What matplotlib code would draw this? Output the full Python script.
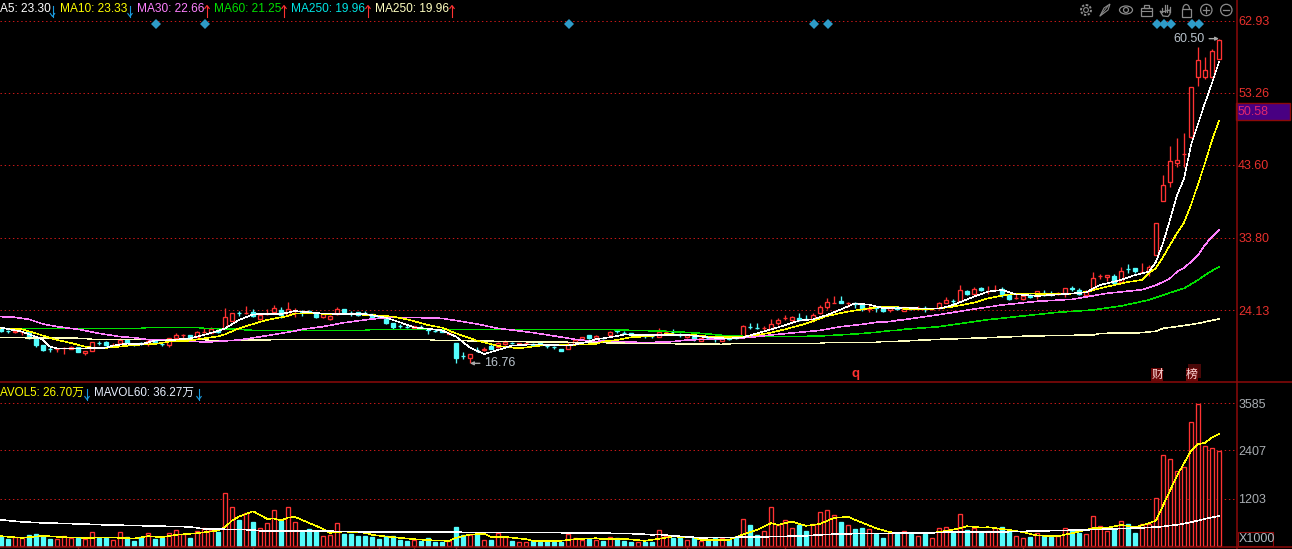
import numpy as np
import matplotlib
matplotlib.use('Agg')
import matplotlib.pyplot as plt
from matplotlib.patches import Rectangle, Circle, Ellipse, Polygon, Arc

plt.rcParams['font.family'] = ['Liberation Sans', 'Noto Sans CJK SC', 'DejaVu Sans']

open_p = [21.68,21.35,21.22,21.13,21.15,20.43,19.45,18.89,18.85,18.98,
	18.96,19.14,18.42,18.69,19.74,19.81,19.43,19.76,20.12,19.56,
	19.69,19.67,20.03,19.56,19.45,20.39,20.77,20.79,20.48,21.13,
	21.10,21.46,21.59,22.71,23.71,23.76,23.87,22.98,23.58,23.92,
	24.14,23.47,24.03,23.94,23.94,23.56,23.20,22.98,23.60,24.27,
	23.80,23.83,23.80,23.56,23.18,22.93,22.40,22.02,21.88,21.77,
	21.84,21.55,21.35,21.41,20.97,19.67,18.04,17.66,18.80,18.73,
	19.32,19.18,19.58,19.74,19.58,19.65,19.63,19.67,19.38,19.16,
	18.91,18.96,19.63,20.30,20.79,20.34,20.38,20.79,21.46,21.12,
	21.01,20.77,20.66,20.66,20.57,21.17,21.17,20.85,20.48,20.70,
	20.03,20.36,20.23,20.03,20.43,20.45,20.57,21.88,21.70,21.66,
	21.64,22.35,23.09,22.80,23.07,22.91,22.80,23.74,24.54,25.10,
	25.39,25.01,25.01,24.90,24.23,24.50,24.36,24.09,24.50,24.05,
	24.38,24.34,24.34,24.21,24.36,25.12,25.41,25.39,26.73,26.33,
	27.13,26.71,26.80,26.95,26.19,25.73,25.66,26.19,26.02,26.46,
	26.30,26.31,26.46,27.02,26.82,26.19,27.09,28.63,28.61,28.70,
	27.94,29.65,29.72,29.17,29.32,31.50,38.80,41.33,43.85,44.98,
	47.30,55.30,55.40,55.30,57.80]
close_p = [21.33,21.31,21.26,21.17,20.34,19.45,18.78,18.85,18.89,19.02,
	19.18,18.56,18.65,19.81,19.70,19.45,19.47,20.12,19.72,19.52,
	19.65,19.99,19.67,19.52,20.34,20.74,20.81,20.34,21.15,21.17,
	21.59,21.15,23.16,23.69,23.67,23.80,23.38,23.47,23.62,24.36,
	23.47,24.32,24.07,23.90,23.90,23.20,23.56,23.38,24.23,23.83,
	23.76,23.47,23.76,23.20,23.14,22.40,21.91,21.98,21.84,21.95,
	21.80,21.41,21.31,21.24,21.10,17.66,18.00,18.20,18.76,18.91,
	18.91,19.67,19.90,19.70,19.72,19.69,19.49,19.45,19.34,19.12,
	18.69,19.54,20.16,20.48,20.34,20.61,20.34,21.19,21.28,21.08,
	20.75,20.81,20.62,20.62,21.24,21.21,21.13,20.81,20.75,20.21,
	20.43,20.32,20.19,20.43,20.21,20.41,22.00,21.84,21.66,21.70,
	22.26,22.84,23.13,23.25,22.80,22.87,23.42,24.54,25.17,25.14,
	25.12,25.05,24.97,24.23,24.45,24.46,24.05,24.54,24.23,24.54,
	24.34,24.38,24.30,24.25,25.03,25.48,25.37,26.77,26.28,26.91,
	26.77,26.75,26.84,26.24,25.61,25.77,25.97,25.84,26.64,26.10,
	26.26,26.35,27.09,26.98,26.24,26.73,28.38,28.67,28.83,27.80,
	29.32,29.61,29.37,29.21,29.86,35.80,40.90,44.06,44.20,45.02,
	53.98,57.60,56.26,58.84,60.28]
high_p = [21.91,21.50,21.55,21.33,21.24,20.50,19.50,19.14,19.00,19.14,
	19.25,19.20,18.70,19.85,19.99,19.99,19.72,20.34,20.20,19.67,
	19.90,20.25,20.10,19.76,20.43,21.01,20.97,20.85,21.33,21.68,
	21.86,21.68,24.36,23.75,24.05,24.68,24.23,23.65,24.27,24.81,
	24.50,25.17,24.36,24.18,24.10,23.60,23.60,23.47,24.50,24.30,
	24.01,23.90,24.01,23.60,23.34,23.00,22.45,22.26,22.13,22.00,
	22.13,21.60,21.55,21.50,21.15,19.70,18.51,18.25,19.14,19.18,
	19.54,19.90,20.12,19.90,19.75,19.80,19.67,19.70,19.54,19.32,
	18.95,19.90,20.30,20.52,20.85,20.79,20.48,21.37,21.50,21.33,
	21.05,20.90,20.75,20.70,21.73,21.46,21.55,21.10,20.80,20.75,
	20.50,20.57,20.57,20.50,20.50,20.66,22.13,22.40,22.40,21.99,
	22.93,23.02,23.42,23.38,23.74,23.47,23.69,24.81,25.75,26.02,
	26.02,25.21,25.21,24.95,24.76,24.65,24.40,24.60,24.55,24.60,
	24.59,24.68,24.72,24.30,25.26,25.84,25.66,27.49,26.80,27.18,
	27.20,27.36,27.49,27.18,26.25,26.37,26.05,26.25,26.70,26.77,
	26.69,26.60,27.15,27.36,27.04,26.80,29.23,29.01,28.87,28.92,
	29.86,30.30,29.80,30.39,30.17,35.85,42.20,46.10,47.20,47.90,
	54.00,59.34,58.00,59.11,60.50]
low_p = [21.15,21.10,21.10,20.79,20.30,19.23,18.65,18.51,18.51,18.24,
	18.90,18.50,18.15,18.65,19.45,19.32,19.23,19.54,19.65,19.36,
	19.45,19.36,19.60,19.36,19.18,20.25,20.25,20.30,20.34,21.01,
	21.01,21.01,21.55,22.65,23.34,23.65,23.20,22.84,23.47,23.78,
	23.11,23.34,23.25,23.38,23.74,23.02,23.10,22.80,23.47,23.75,
	23.38,23.40,23.47,23.10,23.02,22.22,21.59,21.68,21.72,21.59,
	21.55,20.92,21.24,21.20,20.90,16.99,17.57,16.99,18.56,18.65,
	18.85,19.00,19.45,19.54,19.45,19.50,19.45,19.40,19.09,18.91,
	18.65,18.91,19.54,20.12,20.21,20.21,20.21,20.57,21.10,20.88,
	20.70,20.70,20.43,20.43,20.48,20.88,20.79,20.57,20.40,19.99,
	19.95,20.21,19.85,19.95,20.15,20.21,20.34,21.55,21.55,21.46,
	21.55,22.13,22.80,22.67,22.71,22.80,22.49,23.56,24.27,25.03,
	25.03,24.50,24.36,24.05,23.92,23.92,23.92,23.87,24.15,24.00,
	24.14,24.14,23.87,24.14,24.23,25.03,24.94,25.26,26.15,26.24,
	26.64,26.28,26.69,25.93,25.48,25.61,25.48,25.80,25.61,26.05,
	26.06,26.15,25.88,26.64,26.20,26.10,27.00,28.29,28.07,27.71,
	27.80,29.05,29.14,29.05,28.74,31.45,38.70,40.66,43.30,43.30,
	47.20,54.15,55.13,55.20,57.75]
volume = [250,200,233,208,300,325,275,200,192,267,
	208,208,192,367,208,208,167,367,233,150,
	250,342,200,217,342,417,317,225,392,467,
	417,358,1342,992,675,842,625,467,600,917,
	642,992,608,375,442,383,267,300,592,325,
	325,275,275,250,200,275,275,175,150,175,
	150,225,125,125,133,500,300,300,325,167,
	175,350,250,150,117,117,150,125,150,125,
	125,317,217,167,183,175,150,242,217,150,
	125,108,125,125,417,275,217,217,167,208,
	142,167,208,208,167,233,692,550,300,400,
	992,550,667,467,550,400,567,867,917,792,
	625,542,450,475,442,308,225,367,325,392,
	308,267,317,217,467,492,342,817,425,467,
	367,383,467,500,400,267,217,250,342,267,
	233,267,467,383,333,317,767,517,400,442,
	642,575,350,558,567,1217,2292,2192,1892,2000,
	3117,3567,2517,2467,2383]

ma5_i = [0,3,4,5,6,7,8,12,15,16,18,20,22,24,27,29,31,32,34,36,40,42,43,46,52,55,57,59,63,65,67,69,71,73,76,81,84,85,
	86,88,89,95,98,101,104,106,108,111,114,116,118,120,122,124,126,128,129,131,134,136,139,141,143,145,148,152,155,157,160,162,164,165,166,167,168,169,170,171,172,173,174]
ma5_v = [21.77,21.24,20.88,20.57,20.12,19.23,19.00,19.00,19.09,19.36,19.63,19.54,20.03,20.08,20.34,20.79,21.33,21.68,22.80,23.56,23.60,24.00,23.92,23.65,23.60,23.11,22.49,21.82,21.41,20.57,19.09,18.24,18.78,19.36,19.54,19.36,19.90,20.25,
	20.34,20.66,20.83,20.79,20.79,20.48,20.30,20.48,21.01,21.82,22.71,22.89,23.47,24.23,25.03,24.85,24.41,24.36,24.50,24.36,24.32,24.81,25.93,26.60,26.82,26.24,26.02,26.28,26.50,27.49,28.16,28.83,29.27,30.60,33.10,36.20,39.55,41.70,46.25,49.07,51.90,54.55,57.37]
ma10_i = [0,3,5,6,8,10,12,14,16,19,22,24,27,29,31,32,34,36,38,41,42,43,48,53,56,58,61,63,65,68,71,74,77,81,85,
	86,88,90,93,95,99,102,106,108,110,112,115,118,121,124,126,128,129,132,134,136,139,141,143,145,152,155,158,161,163,164,165,166,167,168,169,170,171,172,173,174]
ma10_v = [21.68,21.55,21.01,20.70,20.12,19.72,19.23,19.00,19.14,19.45,19.58,19.90,20.03,20.34,20.61,20.88,21.68,22.26,22.80,23.34,23.69,23.69,23.60,23.47,23.25,22.89,22.13,21.77,21.01,20.03,19.32,19.00,19.36,19.45,19.58,
	19.90,20.12,20.48,20.66,20.92,20.79,20.48,20.57,20.79,21.10,21.55,22.31,23.34,23.92,24.36,24.59,24.59,24.27,24.23,24.36,24.59,25.12,25.70,26.06,26.37,26.24,26.55,27.27,27.89,28.16,29.10,29.77,31.24,32.85,34.45,35.84,38.20,41.00,43.83,46.90,49.50]
ma30_i = [0,2,4,6,8,11,14,17,19,21,28,29,34,38,42,43,46,49,53,55,58,63,66,68,71,73,76,79,82,85,
	86,92,96,98,101,105,107,110,114,117,120,123,125,127,128,129,134,139,143,148,153,158,163,165,167,168,169,170,171,172,173,174]
ma30_v = [23.25,23.16,22.89,22.26,21.91,21.55,21.01,20.57,20.43,20.16,19.94,19.81,20.12,20.70,21.33,21.55,21.91,22.44,22.93,23.11,23.16,23.02,22.58,22.26,21.68,21.46,21.10,20.66,20.21,19.90,
	20.03,19.76,19.90,20.12,20.21,20.34,20.48,20.79,21.15,21.41,21.91,22.22,22.49,22.58,22.75,22.84,23.51,24.27,24.81,25.30,25.57,26.37,26.86,27.45,28.38,29.27,29.77,30.60,31.51,32.85,33.97,34.85]
ma60_i = [0,20,21,28,29,34,36,52,53,85,86,90,94,97,100,103,107,115,118,122,125,127,128,129,134,141,146,151,156,160,164,167,169,171,172,173,174]
ma60_v = [21.68,21.68,21.82,21.82,21.68,21.55,21.41,21.41,21.55,21.55,21.55,21.41,21.33,21.19,21.01,20.75,20.57,20.61,20.70,20.92,21.15,21.37,21.41,21.55,21.90,22.84,23.34,23.83,24.14,24.68,25.48,26.46,27.04,28.15,28.82,29.40,29.90]
ma250_i = [0,5,12,13,29,30,33,42,61,62,66,67,85,86,92,103,105,117,118,125,126,128,134,140,147,156,157,163,165,166,169,171,174]
ma250_v = [20.48,20.40,20.34,20.21,20.21,19.99,20.07,20.21,20.21,20.07,20.07,19.99,19.76,19.76,19.67,19.54,19.67,19.67,19.81,19.81,19.94,19.94,20.21,20.39,20.66,20.79,21.00,21.10,21.30,21.68,22.05,22.35,22.93]
mavol5_i = [0,3,6,9,12,16,19,21,23,25,28,31,32,33,34,36,37,38,39,40,41,42,44,46,47,49,52,53,55,57,59,62,64,65,67,69,70,72,75,76,80,82,85,86,89,92,94,96,99,100,104,106,108,110,111,113,115,117,119,121,123,125,127,130,134,137,138,140,141,144,146,148,151,153,156,158,160,162,164,165,166,168,170,171,172,173,174]
mavol5_v = [258,217,267,233,217,225,200,258,233,292,333,400,483,650,750,883,792,692,700,650,725,742,592,442,342,375,342,292,250,217,183,150,142,217,300,317,242,242,183,142,142,183,208,183,192,142,192,250,225,167,167,300,417,583,542,625,517,567,717,742,600,458,358,333,358,458,508,475,483,417,358,275,258,333,458,467,542,483,583,650,1025,1775,2400,2567,2600,2733,2817]
mavol60_i = [0,3,6,11,15,21,27,29,36,37,47,52,84,91,93,94,96,100,109,115,117,120,133,136,141,155,159,163,166,167,168,170,172,174]
mavol60_v = [667,617,592,567,542,517,492,442,417,392,383,367,342,317,292,300,267,217,242,267,292,317,342,367,358,417,442,467,500,525,542,608,692,767]
price_ticks = [62.93, 53.26, 43.60, 33.80, 24.13]
vol_ticks = [3585, 2407, 1203]
signal_bars = [22, 29, 81, 116, 118, 165, 166, 167, 170, 171]
date_bars = [11, 36, 54, 59, 65, 98, 112, 124, 146]

UP = '#ff3232'
DOWN = '#54fcfc'
FRAME = '#8c0a0a'
GRID = '#c81818'
W = 1292
H = 549
PANEL_X = 1236
PANEL_Y = 382
LW = 0.72
MA_LW = 0.4
BAR_LW = 0.95

x = np.arange(len(close_p))
open_a = np.array(open_p)
close_a = np.array(close_p)
up = close_a >= open_a
cols = [UP if u else DOWN for u in up]
fills = ['black' if u else DOWN for u in up]
top = np.maximum(open_a, close_a)
bot = np.minimum(open_a, close_a)

fig = plt.figure(figsize=(W / 100, H / 100), dpi=100, facecolor='black')
ax = fig.add_axes([0, (H - PANEL_Y) / H, PANEL_X / W, PANEL_Y / H], facecolor='black')
ax2 = fig.add_axes([0, 0, PANEL_X / W, (H - PANEL_Y) / H], facecolor='black')
over = fig.add_axes([0, 0, 1, 1], facecolor='none')
over.set_xlim(0, W)
over.set_ylim(H, 0)
over.axis('off')

for a in [ax, ax2]:
	a.set_xlim(-1 / 7, 1235 / 7)
	for s in a.spines.values():
		s.set_visible(False)
	a.yaxis.tick_right()
	a.tick_params(axis='y', length=0, pad=1.5)
	a.grid(axis='y', color=GRID, linestyle=(0, (1.4, 2.75)), linewidth=LW)
	a.set_axisbelow(True)

ax.set_ylim(14.49, 65.68)
ax.set_xticks([])
ax.set_yticks(price_ticks)
ax.set_yticklabels(['%.2f' % p for p in price_ticks], color='#e8302c', fontsize=9)

ax2.set_ylim(-63, 4124)
ax2.set_yticks(vol_ticks)
ax2.set_yticklabels([str(v) for v in vol_ticks], color='#a9adb2', fontsize=9)
ax2.set_xticks(date_bars)
ax2.set_xticklabels([])
ax2.tick_params(axis='x', direction='in', length=2, width=1, color=FRAME)

# candles
ax.vlines(x, top, high_p, colors=cols, linewidth=BAR_LW, zorder=2)
ax.vlines(x, low_p, bot, colors=cols, linewidth=BAR_LW, zorder=2)
ax.bar(x, top - bot, bottom=bot, width=0.68, color=fills, edgecolor=cols, linewidth=BAR_LW, zorder=2)

for idx, val, c in [(ma250_i, ma250_v, '#ffffc0'), (ma60_i, ma60_v, '#00e000'), (ma30_i, ma30_v, '#ff80ff'),
		(ma10_i, ma10_v, '#ffff00'), (ma5_i, ma5_v, '#ffffff')]:
	ax.plot(idx, val, color=c, linewidth=MA_LW, antialiased=False, zorder=3)

ax.plot(np.array(signal_bars) + 0.2, [62.4] * len(signal_bars), linestyle='none', marker='D',
	markersize=5.2, color='#2e9bc8', markeredgewidth=0, zorder=4)

ax.annotate('60.50', xy=(174, 60.5), xytext=(-14, 0), textcoords='offset pixels', ha='right', va='center',
	color='#b9c3cc', fontsize=9, arrowprops=dict(arrowstyle='-|>', color='#a8a8a8', lw=1, mutation_scale=5, shrinkA=1, shrinkB=0))
ax.annotate('16.76', xy=(67, 16.99), xytext=(14, 0), textcoords='offset pixels', ha='left', va='center',
	color='#b9c3cc', fontsize=9, arrowprops=dict(arrowstyle='-|>', color='#a8a8a8', lw=1, mutation_scale=5, shrinkA=1, shrinkB=0))

# volume
ax2.bar(x, volume, width=0.68, color=fills, edgecolor=cols, linewidth=BAR_LW, zorder=2)
ax2.plot(mavol5_i, mavol5_v, color='#ffff00', linewidth=MA_LW, antialiased=False, zorder=3)
ax2.plot(mavol60_i, mavol60_v, color='#ffffff', linewidth=MA_LW, antialiased=False, zorder=3)

# frame
over.plot([0, W], [PANEL_Y, PANEL_Y], color=FRAME, linewidth=1.1)
over.plot([0, W], [546.8, 546.8], color=FRAME, linewidth=1.1)
over.plot([PANEL_X + 0.5, PANEL_X + 0.5], [0, H], color=FRAME, linewidth=1.1)
over.add_patch(Rectangle((PANEL_X, 103), 54, 17, facecolor='#480082', edgecolor=FRAME, linewidth=1))
over.text(1238, 112, '50.58', color='#e0286e', fontsize=9, va='center')
over.add_patch(Rectangle((1237.5, 532), 35.5, 14, facecolor='black', edgecolor=FRAME, linewidth=0.8))
over.text(1239, 539, 'X1000', color='#b0b8c0', fontsize=9, va='center')


def trend_arrow(xc, yc, rising, c):
	# thin arrow after a legend value
	d = -1 if rising else 1
	over.plot([xc, xc], [yc - 5.5, yc + 5.5], color=c, linewidth=0.8)
	tip = yc + d * 5.5
	over.plot([xc - 2.2, xc, xc + 2.2], [tip - d * 3, tip, tip - d * 3], color=c, linewidth=0.8)


# legend rows
BLUE = '#1a9be0'
over.text(0, 9.5, 'A5: 23.30', color='white', fontsize=8.6, va='center')
row = [(60, 'MA10: 23.33', '#ffff00', 130, False, BLUE), (137, 'MA30: 22.66', '#ff80ff', 207, True, UP),
	(214, 'MA60: 21.25', '#00e000', 284, True, UP), (291, 'MA250: 19.96', '#00e5e5', 368, True, UP),
	(375, 'MA250: 19.96', '#ffffc0', 452, True, UP)]
trend_arrow(52.5, 11, False, BLUE)
for tx, label, c, ax_, rising, ac in row:
	over.text(tx, 9.5, label, color=c, fontsize=8.6, va='center')
	trend_arrow(ax_, 11, rising, ac)
over.text(0, 393, 'AVOL5: 26.70万', color='#ffff00', fontsize=8.4, va='center')
trend_arrow(87, 394, False, BLUE)
over.text(94, 393, 'MAVOL60: 36.27万', color='#e8f0ff', fontsize=8.4, va='center')
trend_arrow(199, 394, False, BLUE)

# signal marks under the price panel
over.text(855, 374.5, 'q', color=UP, fontsize=9.5, fontweight='bold', ha='center', va='center')
over.add_patch(Rectangle((1188, 364), 13, 14, facecolor='#4a0808', edgecolor='none'))
for cx, s in [(1157, '财'), (1192, '榜')]:
	over.add_patch(Rectangle((cx - 6, 368), 12, 13, facecolor='#6a0808', edgecolor='none'))
	over.text(cx, 374.5, s, color='#ffd8d8', fontsize=8.5, ha='center', va='center')

# toolbar icons
G = '#8a8a8a'
over.add_patch(Circle((1086, 10), 2.4, fill=False, edgecolor=G, linewidth=0.8))
over.add_patch(Circle((1086, 10), 5, fill=False, edgecolor=G, linewidth=1.4, linestyle=(0, (1.2, 0.8))))
over.add_patch(Polygon([(1100, 16), (1104, 8), (1110, 4), (1108, 10)], fill=False, edgecolor=G, linewidth=0.8))
over.plot([1100, 1108], [16, 6], color=G, linewidth=0.7)
over.add_patch(Ellipse((1126, 10), 13, 8, fill=False, edgecolor=G, linewidth=0.9))
over.add_patch(Circle((1126, 10), 2.5, fill=False, edgecolor=G, linewidth=0.9))
over.add_patch(Rectangle((1140.5, 7.5), 11, 8.5, fill=False, edgecolor=G, linewidth=0.9))
over.add_patch(Rectangle((1143.5, 4.5), 5, 3, fill=False, edgecolor=G, linewidth=0.9))
over.plot([1140.5, 1151.5], [11, 11], color=G, linewidth=0.8)
for hx, hy in [(1162, 8), (1164.5, 5), (1167, 5), (1169.5, 7)]:
	over.plot([hx, hx], [hy, 12], color=G, linewidth=0.9)
over.add_patch(Polygon([(1162, 12), (1160, 11), (1163, 16), (1168, 16.5), (1170, 14), (1170, 10)], fill=False, edgecolor=G, linewidth=0.9))
over.add_patch(Rectangle((1181.5, 9), 9.5, 7.5, fill=False, edgecolor=G, linewidth=0.9))
over.add_patch(Arc((1186.2, 9), 6.5, 9, theta1=180, theta2=360, edgecolor=G, linewidth=0.9))
for cx in [1206.3, 1226.3]:
	over.add_patch(Circle((cx, 10), 5.7, fill=False, edgecolor=G, linewidth=0.9))
	over.plot([cx - 3, cx + 3], [10, 10], color=G, linewidth=0.9)
over.plot([1206.3, 1206.3], [7, 13], color=G, linewidth=0.9)

fig.savefig('out.png', dpi=100, facecolor='black')
